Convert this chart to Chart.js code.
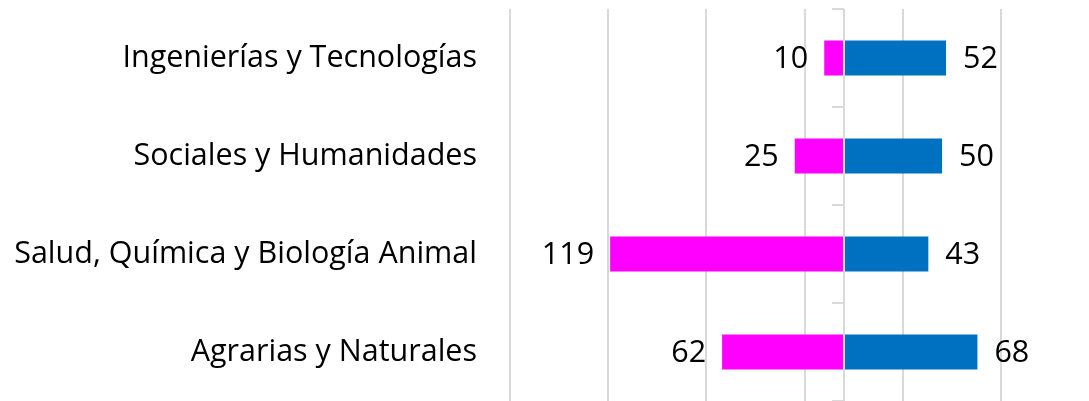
<!DOCTYPE html>
<html>
<head>
<meta charset="utf-8">
<script src="https://cdn.jsdelivr.net/npm/chart.js@4.4.1/dist/chart.umd.min.js"></script>
<style>
  html, body { margin: 0; padding: 0; background: #fff; }
  #wrap { width: 1089px; height: 401px; }
</style>
</head>
<body>
<div id="wrap"><canvas id="myChart"></canvas></div>
<script>
const categories = [
  "Ingenierías y Tecnologías",
  "Sociales y Humanidades",
  "Salud, Química y Biología Animal",
  "Agrarias y Naturales",
];
const pinkValues = [10, 25, 119, 62];
const blueValues = [52, 50, 43, 68];
const gridValues = [-170, -120, -70, -20, 30, 80];

const fontFamily = "'Open Sans', 'Noto Sans', sans-serif";
const fontSize = 30.5;
const gridColor = "#d9d9d9";

// zero axis with small tick marks between categories
const zeroAxis = {
  id: "zeroAxis",
  afterDatasetsDraw(chart) {
    const ctx = chart.ctx;
    const xs = chart.scales.x;
    const ys = chart.scales.y;
    const x0 = Math.round(xs.getPixelForValue(0));
    ctx.save();
    ctx.strokeStyle = gridColor;
    ctx.lineWidth = 2;
    ctx.beginPath();
    ctx.moveTo(x0, chart.chartArea.top);
    ctx.lineTo(x0, chart.chartArea.bottom);
    for (let i = 0; i <= categories.length; i++) {
      const y = Math.round(ys.getPixelForValue(i - 0.5));
      ctx.moveTo(x0 - 12, y);
      ctx.lineTo(x0, y);
    }
    ctx.stroke();
    ctx.restore();
  },
};

// value labels beside the bars
const barLabels = {
  id: "barLabels",
  afterDatasetsDraw(chart) {
    const ctx = chart.ctx;
    ctx.save();
    ctx.font = fontSize + "px " + fontFamily;
    ctx.fillStyle = "#000";
    ctx.textBaseline = "middle";
    chart.data.datasets.forEach((ds, i) => {
      chart.getDatasetMeta(i).data.forEach((bar, j) => {
        const v = ds.data[j];
        if (v < 0) {
          ctx.textAlign = "right";
          ctx.fillText(String(-v), bar.x - 16, bar.y + 1);
        } else {
          ctx.textAlign = "left";
          ctx.fillText(String(v), bar.x + 17, bar.y + 1);
        }
      });
    });
    ctx.restore();
  },
};

const ctx = document.getElementById("myChart").getContext("2d");
const myChart = new Chart(ctx, {
  type: "bar",
  data: {
    labels: categories,
    datasets: [
      {
        label: "Mujeres",
        data: pinkValues.map((v) => -v),
        backgroundColor: "#ff00ff",
        categoryPercentage: 1,
        barPercentage: 0.357,
      },
      {
        label: "Hombres",
        data: blueValues,
        backgroundColor: "#0070c0",
        categoryPercentage: 1,
        barPercentage: 0.357,
      },
    ],
  },
  options: {
    indexAxis: "y",
    responsive: true,
    maintainAspectRatio: false,
    animation: false,
    layout: { padding: { top: 9, right: 88, bottom: 0, left: 0 } },
    plugins: {
      legend: { display: false },
      tooltip: { enabled: false },
    },
    scales: {
      x: {
        stacked: true,
        min: gridValues[0],
        max: gridValues[gridValues.length - 1],
        afterBuildTicks: (scale) => {
          scale.ticks = gridValues.map((v) => ({ value: v }));
        },
        ticks: { display: false },
        grid: { color: gridColor, lineWidth: 2, drawTicks: false },
        border: { display: false },
      },
      y: {
        stacked: true,
        grid: { display: false, drawTicks: false },
        border: { display: false },
        ticks: {
          color: "#000",
          padding: 33,
          font: { family: fontFamily, size: fontSize },
        },
        afterFit: (scale) => {
          scale.width = 510;
          scale.paddingTop = 0;
          scale.paddingBottom = 0;
        },
      },
    },
  },
  plugins: [zeroAxis, barLabels],
});
</script>
</body>
</html>
